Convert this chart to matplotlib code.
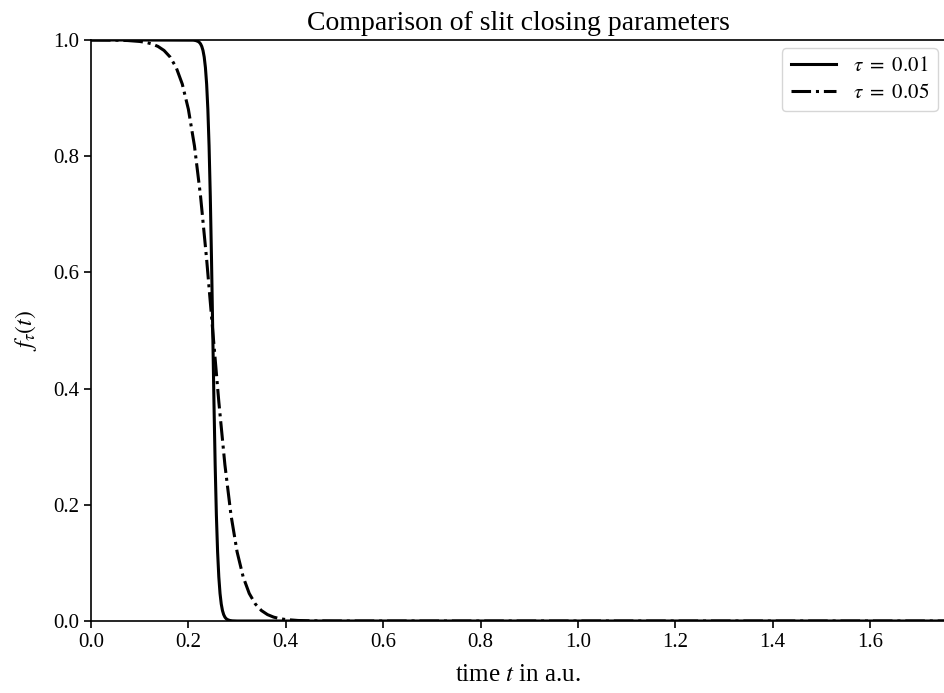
import matplotlib
matplotlib.use('Agg')
import matplotlib.pyplot as plt

# time samples (a.u.) and slit opening
t_fast = [0.0, 0.10, 0.20, 0.21, 0.2150, 0.2200, 0.2225, 0.2250, 0.2275, 0.2300,
          0.2325, 0.2350, 0.2375, 0.2400, 0.2425, 0.2450, 0.2475, 0.2500,
          0.2525, 0.2550, 0.2575, 0.2600, 0.2625, 0.2650, 0.2675, 0.2700,
          0.2725, 0.2750, 0.2775, 0.2800, 0.2850, 0.2900, 0.3000, 1.80]
f_fast = [1.0, 1.0, 0.9997, 0.9997, 0.9991, 0.9975, 0.9959, 0.9933, 0.9890, 0.9820,
          0.9707, 0.9526, 0.9241, 0.8808, 0.8176, 0.7311, 0.6225, 0.5000,
          0.3775, 0.2689, 0.1824, 0.1192, 0.0759, 0.0474, 0.0293, 0.0180,
          0.0110, 0.0067, 0.0041, 0.0025, 0.0009, 0.0003, 0.0, 0.0]

t_slow = [0.0, 0.05, 0.075, 0.1000, 0.1125, 0.1250, 0.1375, 0.1500, 0.1625,
          0.1750, 0.1875, 0.2000, 0.2125, 0.2250, 0.2375, 0.2500, 0.2625,
          0.2750, 0.2875, 0.3000, 0.3125, 0.3250, 0.3375, 0.3500, 0.3625,
          0.3750, 0.3875, 0.4000, 0.4250, 0.4500, 0.5000, 1.80]
f_slow = [1.0, 0.9997, 0.9991, 0.9975, 0.9959, 0.9933, 0.9890, 0.9820, 0.9707,
          0.9526, 0.9241, 0.8808, 0.8176, 0.7311, 0.6225, 0.5000, 0.3775,
          0.2689, 0.1824, 0.1192, 0.0759, 0.0474, 0.0293, 0.0180, 0.0110,
          0.0067, 0.0041, 0.0025, 0.0009, 0.0003, 0.0, 0.0]

labels = [r'$\tau\ =\ 0.01$', r'$\tau\ =\ 0.05$']

plt.rcParams['font.family'] = ['Liberation Serif', 'DejaVu Serif']
plt.rcParams['mathtext.fontset'] = 'stix'

fig = plt.figure(figsize=(9.45, 6.93), dpi=100)
ax = fig.add_axes([91 / 945, 1 - 621 / 693, (946 - 91) / 945, (621 - 40) / 693])

ax.plot(t_fast, f_fast, 'k-', lw=2.2, label=labels[0])
ax.plot(t_slow, f_slow, 'k-.', lw=2.2, label=labels[1])

ax.set_xlim(0, (946 - 91) / 486.9)
ax.set_ylim(0, 1)
ax.set_xticks([0.0, 0.2, 0.4, 0.6, 0.8, 1.0, 1.2, 1.4, 1.6])
ax.set_yticks([0.0, 0.2, 0.4, 0.6, 0.8, 1.0])
ax.tick_params(labelsize=15, length=5, width=1.2)
for s in ax.spines.values():
    s.set_linewidth(1.2)
ax.set_xlabel(r'time $t$ in a.u.', fontsize=18, labelpad=9)
ax.set_ylabel(r'$f_\tau(t)$', fontsize=17, labelpad=10)
ax.set_title('Comparison of slit closing parameters', fontsize=20, pad=7)
ax.legend(loc='upper right', fontsize=15, borderaxespad=0.4, labelspacing=0.35,
          handlelength=2.2)

fig.savefig('out.png', dpi=100)
